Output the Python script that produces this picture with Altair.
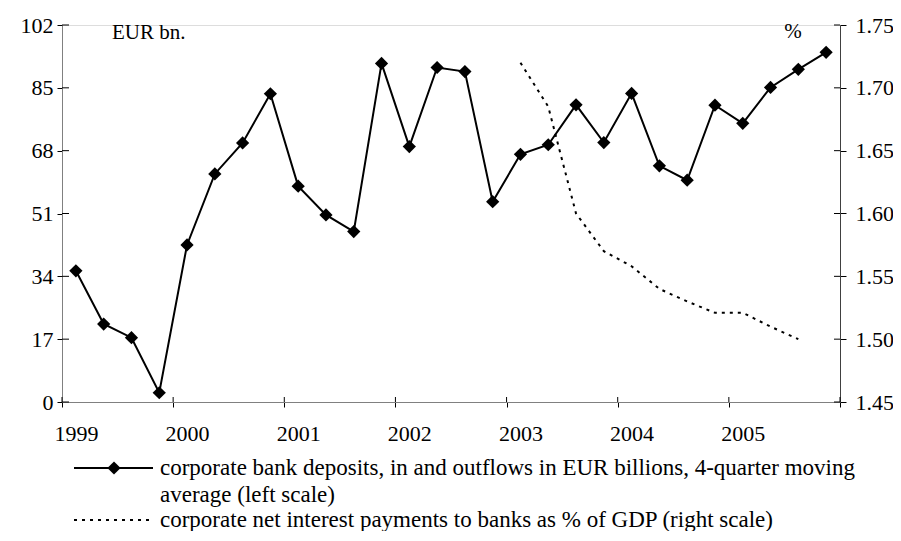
import altair as alt
import pandas as pd

FONT = "'Liberation Serif', 'Times New Roman', 'DejaVu Serif', serif"

# ---- data -----------------------------------------------------------------
quarters = [
    "1999Q1", "1999Q2", "1999Q3", "1999Q4",
    "2000Q1", "2000Q2", "2000Q3", "2000Q4",
    "2001Q1", "2001Q2", "2001Q3", "2001Q4",
    "2002Q1", "2002Q2", "2002Q3", "2002Q4",
    "2003Q1", "2003Q2", "2003Q3", "2003Q4",
    "2004Q1", "2004Q2", "2004Q3", "2004Q4",
    "2005Q1", "2005Q2", "2005Q3", "2005Q4",
]
deposits = [35.5, 21.1, 17.4, 2.5, 42.5, 61.7, 70.1, 83.4,
            58.4, 50.6, 46.1, 91.6, 69.1, 90.5, 89.4, 54.2,
            67.0, 69.6, 80.4, 70.2, 83.5, 63.9, 60.0, 80.3,
            75.4, 85.1, 90.0, 94.6]

interest_quarters = ["2003Q1", "2003Q2", "2003Q3", "2003Q4",
                     "2004Q1", "2004Q2", "2004Q3", "2004Q4",
                     "2005Q1", "2005Q2", "2005Q3"]
interest = [1.72, 1.685, 1.60, 1.57, 1.558, 1.54, 1.53, 1.521, 1.521, 1.51, 1.50]

year_labels = ["1999", "2000", "2001", "2002", "2003", "2004", "2005"]
year_ticks = [0, 4, 8, 12, 16, 20, 24, 28]
left_ticks = [0, 17, 34, 51, 68, 85, 102]
right_ticks = [1.45, 1.50, 1.55, 1.60, 1.65, 1.70, 1.75]

legend_1a = "corporate bank deposits, in and outflows in EUR billions, 4-quarter moving"
legend_1b = "average (left scale)"
legend_2 = "corporate net interest payments to banks as % of GDP (right scale)"

# ---- tables -----------------------------------------------------------------
dep_df = pd.DataFrame({"quarter": quarters, "value": deposits,
                       "i": [quarters.index(q) for q in quarters]})
int_df = pd.DataFrame({"quarter": interest_quarters, "value": interest,
                       "i": [quarters.index(q) for q in interest_quarters]})
left_tick_df = pd.DataFrame({"v": left_ticks})
right_tick_df = pd.DataFrame({"v": right_ticks})
year_tick_df = pd.DataFrame({"v": year_ticks})
one = pd.DataFrame({"a": [0]})

W, H = 778, 377
AX_FS = 22
LEG_FS = 23

label_arr = "[" + ",".join(f"'{y}'" for y in year_labels) + "]"
x_axis = alt.Axis(values=year_ticks, labelExpr=f"{label_arr}[datum.value/4] || ''",
                  labelOffset=W / 28 / 2, tickSize=5, labelPadding=16, grid=False,
                  domainColor="#808080", tickColor="black", labelColor="black",
                  labelFont=FONT, labelFontSize=AX_FS, title=None, labelFlush=False)
x_scale = alt.Scale(domain=[0, 28], nice=False, zero=False)

def xenc(field):
    return alt.X(field, type="quantitative", scale=x_scale, axis=x_axis)

left_axis = alt.Axis(values=left_ticks, orient="left", grid=False, tickSize=5,
                     labelPadding=4, domainColor="#808080", tickColor="black",
                     labelColor="black", labelFont=FONT, labelFontSize=AX_FS, title=None)
right_axis = alt.Axis(values=right_ticks, orient="right", grid=False, tickSize=6,
                      labelPadding=9, format=".2f", domainColor="#404040",
                      tickColor="black", labelColor="black", labelFont=FONT,
                      labelFontSize=AX_FS, title=None)
y_left_scale = alt.Scale(domain=[0, 102], nice=False, zero=False)
y_right_scale = alt.Scale(domain=[1.45, 1.75], nice=False, zero=False)

dep_base = alt.Chart(dep_df).transform_calculate(pos="datum.i + 0.5")
dep_line = dep_base.mark_line(color="black", strokeWidth=2).encode(
    x=xenc("pos"), y=alt.Y("value:Q", scale=y_left_scale, axis=left_axis))
dep_pts = dep_base.mark_point(shape="diamond", filled=True, size=175, color="black",
                              opacity=1).encode(
    x=xenc("pos"), y=alt.Y("value:Q", scale=y_left_scale, axis=left_axis))
left_inner = alt.Chart(left_tick_df).mark_rule(color="black", strokeWidth=1).encode(
    y=alt.Y("v:Q", scale=y_left_scale, axis=left_axis), x=alt.value(0), x2=alt.value(7))
bottom_inner = alt.Chart(year_tick_df).mark_rule(color="black", strokeWidth=1).encode(
    x=xenc("v"), y=alt.value(H - 5), y2=alt.value(H))

left_group = alt.layer(dep_line, dep_pts, left_inner, bottom_inner)

int_line = alt.Chart(int_df).transform_calculate(pos="datum.i + 0.5").mark_line(
    color="black", strokeWidth=2, strokeDash=[3, 5]).encode(
    x=xenc("pos"), y=alt.Y("value:Q", scale=y_right_scale, axis=right_axis))
right_inner = alt.Chart(right_tick_df).mark_rule(color="black", strokeWidth=1).encode(
    y=alt.Y("v:Q", scale=y_right_scale, axis=right_axis), x=alt.value(W - 6), x2=alt.value(W))

right_group = alt.layer(int_line, right_inner)

def text(t, x, y, align="left", fs=LEG_FS):
    return alt.Chart(one).mark_text(font=FONT, fontSize=fs, color="black", align=align,
                                    baseline="middle").encode(
        x=alt.value(x), y=alt.value(y), text=alt.value(t))

unit_l = text("EUR bn.", 50, 8, fs=21)
unit_r = text("%", 731, 7, align="center", fs=21)

leg_rule1 = alt.Chart(one).mark_rule(color="black", strokeWidth=2).encode(
    x=alt.value(12), x2=alt.value(91), y=alt.value(443))
leg_pt1 = alt.Chart(one).mark_point(shape="diamond", filled=True, size=175, color="black",
                                    opacity=1).encode(x=alt.value(52), y=alt.value(443))
leg_t1a = text(legend_1a, 98, 443)
leg_t1b = text(legend_1b, 98, 470)
leg_rule2 = alt.Chart(one).mark_rule(color="black", strokeWidth=2, strokeDash=[3, 5]).encode(
    x=alt.value(12), x2=alt.value(88), y=alt.value(495))
leg_t2 = text(legend_2, 98, 495)

chart = alt.layer(
    left_group, right_group, unit_l, unit_r,
    leg_rule1, leg_pt1, leg_t1a, leg_t1b, leg_rule2, leg_t2
).resolve_scale(y="independent").properties(
    width=W, height=H,
    autosize=alt.AutoSizeParams(type="none"),
    padding={"left": 54, "top": 17, "right": 53, "bottom": 129},
).configure_view(stroke=None).configure(background="white")

chart.save("out.html", embed_options={"renderer": "svg", "actions": False})
